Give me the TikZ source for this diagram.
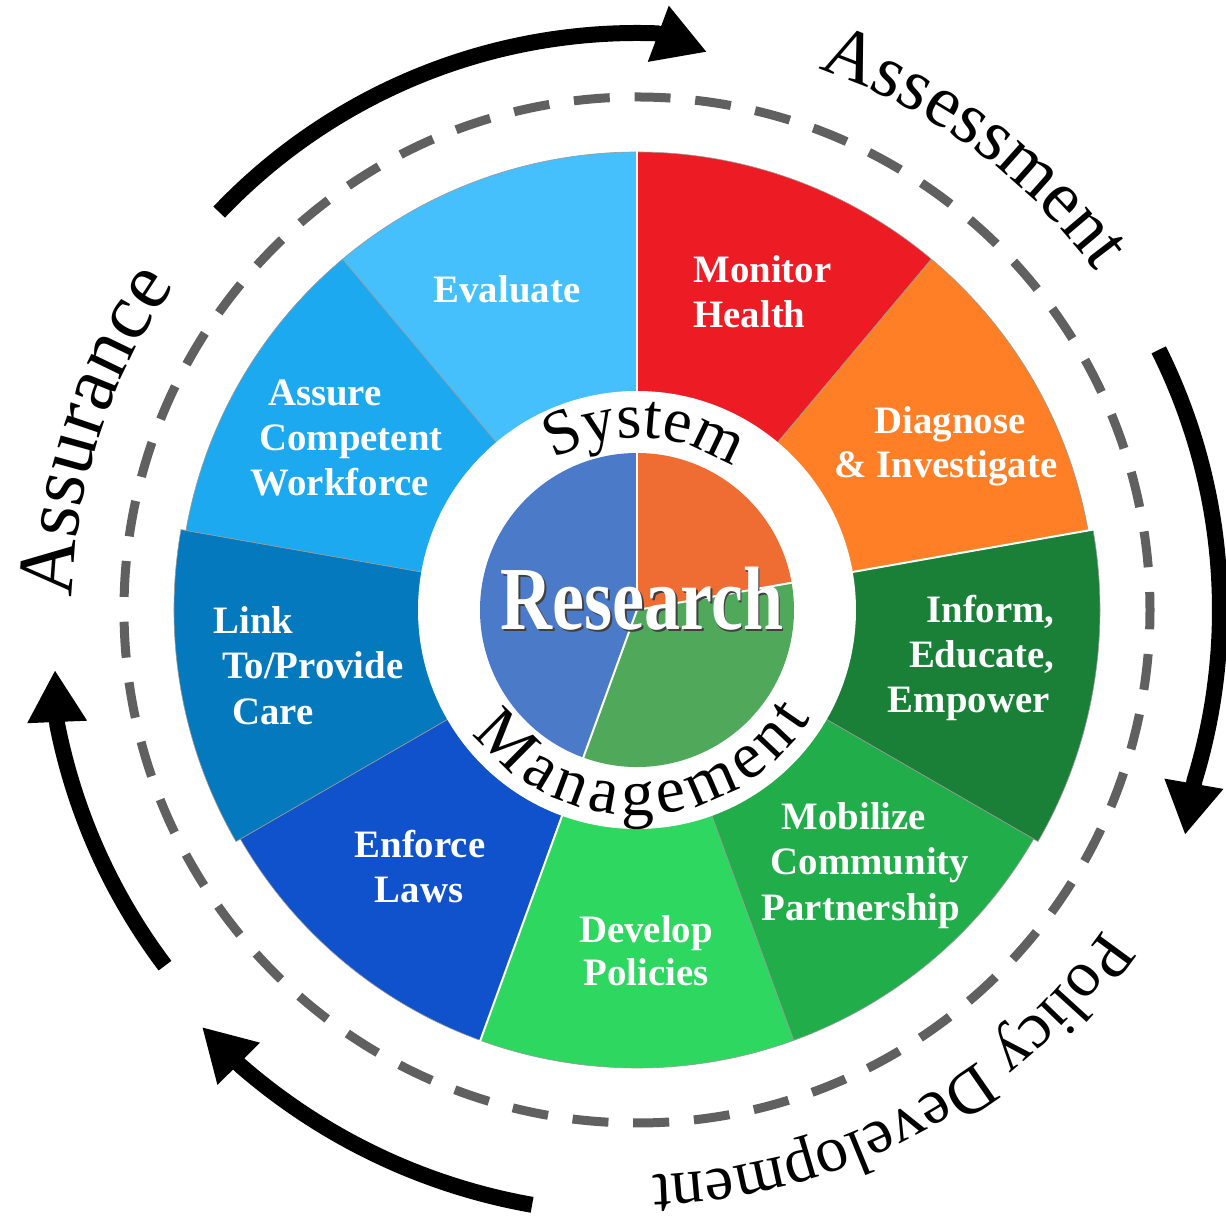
\documentclass[tikz,border=0pt]{standalone}
\usepackage{fontspec}
\setmainfont{Liberation Serif}
\usepackage{graphicx}
\usetikzlibrary{arrows.meta,decorations.text}

\definecolor{cMon}{HTML}{ED1C24}
\definecolor{cDia}{HTML}{FF7F27}
\definecolor{cInf}{HTML}{1A7F37}
\definecolor{cMob}{HTML}{22AD4B}
\definecolor{cDev}{HTML}{2ED760}
\definecolor{cEnf}{HTML}{1052CC}
\definecolor{cLnk}{HTML}{0479BE}
\definecolor{cAss}{HTML}{1CA9F0}
\definecolor{cEva}{HTML}{46C0FD}
\definecolor{pBlue}{HTML}{4A7AC8}
\definecolor{pOrange}{HTML}{EF6C33}
\definecolor{pGreen}{HTML}{50A85B}
\definecolor{dashgray}{HTML}{606060}

\newcommand\fAssess{\fontsize{37pt}{40pt}\selectfont}
\newcommand\fAssur{\fontsize{40pt}{44pt}\selectfont}
\newcommand\fPolicy{\fontsize{32.5pt}{36pt}\selectfont}
\newcommand\fSys{\fontsize{32pt}{35pt}\selectfont}
\newcommand\fMan{\fontsize{33pt}{36pt}\selectfont}

\begin{document}
\begin{tikzpicture}[x=0.5pt,y=0.5pt,
  lab/.style={text=white,inner sep=0pt,font=\fontsize{19.4pt}{22.5pt}\selectfont\bfseries,text height=13pt,text depth=0pt},
  cyc/.style={line width=8pt,-{Triangle[length=26pt,width=28pt]}},
  seg/.style={draw=black!40,line width=0.3pt},
  sep/.style={white,line width=1pt}]
\useasboundingbox (-637,-614) rectangle (589,610);

% cycle arrows
\coordinate (tipTop) at (70,558);
\coordinate (tipRight) at (548,-225);
\coordinate (tipBottom) at (-435,-417);
\coordinate (tipLeft) at (-582,-60);
\draw[cyc] (136.4:577) arc[start angle=136.4,end angle=88,radius=577] -- (tipTop);
\draw[cyc] (26.5:583) arc[start angle=26.5,end angle=-17,radius=583] -- (tipRight);
\draw[cyc] (-100:604) arc[start angle=-100,end angle=-131,radius=604] -- (tipBottom);
\draw[cyc] (-143:591) arc[start angle=-143,end angle=-168.8,radius=591] -- (tipLeft);

% dashed circle
\draw[dashgray,line width=4.5pt,dash pattern=on 18pt off 12.4pt,dash phase=9pt] (0,0) circle[radius=513];

% outer curved labels
\path[decorate,decoration={text along path,text={|\fAssess|Assessment},text align=fit to path}]
  (71.5:570) arc[start angle=71.5,end angle=37,radius=570];
\path[decorate,decoration={text along path,text={|\fAssur|Assurance},text align=fit to path}]
  (178.7:565) arc[start angle=178.7,end angle=145.6,radius=565];
\path[decorate,decoration={text along path,text={|\fPolicy|Policy Development},text align=center}]
  (-21.4:565) arc[start angle=-21.4,end angle=-101.4,radius=565];

% wheel segments
\foreach \a/\b/\c/\r in {50/90/cMon/458,10/50/cDia/458,-30/10/cInf/463,-70/-30/cMob/458,-110/-70/cDev/458,-150/-110/cEnf/458,-190/-150/cLnk/463,130/170/cAss/458,90/130/cEva/458}
  \filldraw[seg,fill=\c] (0,0) -- (\a:\r) arc[start angle=\a,end angle=\b,radius=\r] -- cycle;
\foreach \a in {90,10,-110}
  \draw[sep] (\a:215) -- (\a:466);

% white ring
\fill[white] (0,0) circle[radius=219];

% inner pie
\fill[pBlue] (0,0) -- (90:157) arc[start angle=90,end angle=250,radius=157] -- cycle;
\fill[pOrange] (0,0) -- (10:157) arc[start angle=10,end angle=90,radius=157] -- cycle;
\fill[pGreen] (0,0) -- (-110:157) arc[start angle=-110,end angle=10,radius=157] -- cycle;
\foreach \a in {90,10,-110}
  \draw[white,line width=1pt] (0,0) -- (\a:158);

% ring texts
\path[decorate,decoration={text along path,text={|\fSys|System},text align=fit to path}]
  (119:172) arc[start angle=119,end angle=58,radius=172];
\path[decorate,decoration={text along path,text={|\fMan|Management},text align=fit to path}]
  (-143:205) arc[start angle=-143,end angle=-32,radius=205];

% centre text
\node[anchor=base,inner sep=0pt,text=black!75] (researchshadow) at (6.5,-21.5)
  {\scalebox{0.8}[1]{\fontsize{45pt}{50pt}\selectfont\bfseries Research}};
\node[anchor=base,inner sep=0pt,text=white] (research) at (5,-20)
  {\scalebox{0.8}[1]{\fontsize{45pt}{50pt}\selectfont\bfseries Research}};

% segment labels
\node[lab] (evaluate) at (-130,320) {Evaluate};
\node[lab,anchor=west] (monitor1) at (56,340) {Monitor};
\node[lab,anchor=west] (monitor2) at (56,295) {Health};
\node[lab] (diag1) at (313,189) {Diagnose};
\node[lab] (diag2) at (309,145) {\& Investigate};
\node[lab,anchor=east] (inf1) at (418,0) {Inform,};
\node[lab,anchor=east] (inf2) at (418,-45) {Educate,};
\node[lab,anchor=east] (inf3) at (413,-90) {Empower};
\node[lab] (mob1) at (217,-207) {Mobilize};
\node[lab] (mob2) at (233,-252) {Community};
\node[lab] (mob3) at (224,-298) {Partnership};
\node[lab] (dev1) at (9,-320) {Develop};
\node[lab] (dev2) at (9,-363) {Policies};
\node[lab] (enf1) at (-217,-235) {Enforce};
\node[lab] (enf2) at (-218,-280) {Laws};
\node[lab,anchor=west] (lnk1) at (-424,-11) {Link};
\node[lab,anchor=west] (lnk2) at (-415,-56) {To/Provide};
\node[lab,anchor=west] (lnk3) at (-405,-102) {Care};
\node[lab] (ass1) at (-312,217) {Assure};
\node[lab] (ass2) at (-286,172) {Competent};
\node[lab] (ass3) at (-297,127) {Workforce};
\end{tikzpicture}
\end{document}
